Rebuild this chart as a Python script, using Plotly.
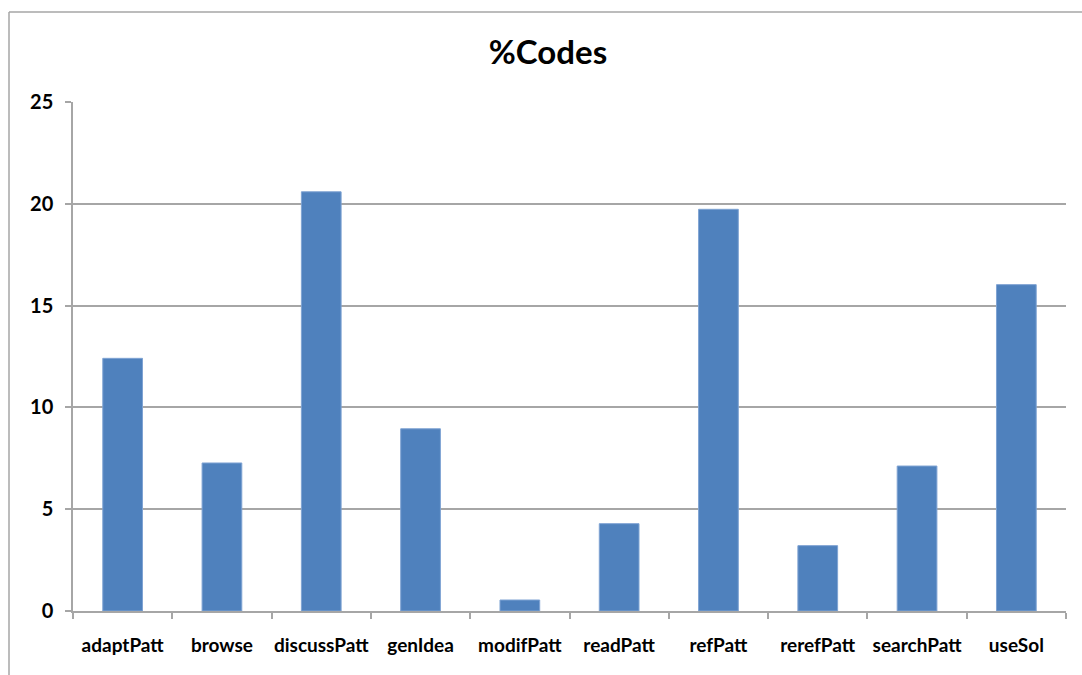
import plotly.graph_objects as go

categories = ["adaptPatt", "browse", "discussPatt", "genIdea", "modifPatt",
              "readPatt", "refPatt", "rerefPatt", "searchPatt", "useSol"]
percent_codes = [12.41, 7.27, 20.59, 8.95, 0.54, 4.29, 19.73, 3.21, 7.12, 16.03]
y_ticks = [0, 5, 10, 15, 20, 25]

W, H = 1082, 675
ML, MR, MT, MB = 73, 16, 102, 64
pw, ph = W - ML - MR, H - MT - MB

FONT = "Lato"
GRAY = "#a6a6a6"

fig = go.Figure(
    go.Bar(
        x=categories,
        y=percent_codes,
        marker=dict(color="#4f81bd", line=dict(color="#7fa3d3", width=1)),
        hoverinfo="x+y",
    )
)

# chart-area frame (left and top edges)
frame_x = (9 - ML) / pw
frame_y = 1 + (MT - 12) / ph
fig.add_shape(type="line", xref="paper", yref="paper",
              x0=frame_x, x1=frame_x, y0=frame_y, y1=-MB / ph - 0.01,
              line=dict(color=GRAY, width=1.5))
fig.add_shape(type="line", xref="paper", yref="paper",
              x0=frame_x, x1=1 + MR / pw + 0.01, y0=frame_y, y1=frame_y,
              line=dict(color=GRAY, width=1.5))

fig.update_layout(
    width=W, height=H,
    margin=dict(l=ML, r=MR, t=MT, b=MB, pad=0, autoexpand=False),
    paper_bgcolor="white", plot_bgcolor="white",
    bargap=0.6,
    showlegend=False,
    font=dict(family=FONT, color="black"),
    title=dict(text="<b>%Codes</b>", x=548 / W, xanchor="center",
               y=1 - 52 / H, yanchor="middle",
               font=dict(family=FONT, size=33, color="black")),
    xaxis=dict(
        type="category",
        automargin=False,
        tickangle=0,
        showline=True, linecolor=GRAY, linewidth=1.5,
        ticks="outside", tickson="boundaries", ticklen=6, tickcolor=GRAY,
        tickwidth=1.5,
        tickfont=dict(family=FONT, size=19, color="black", weight="bold"),
        ticklabelstandoff=16,
        showgrid=False, zeroline=False,
    ),
    yaxis=dict(
        range=[0, 25],
        automargin=False,
        tickvals=y_ticks,
        showline=True, linecolor=GRAY, linewidth=1.5,
        ticks="outside", ticklen=6, tickcolor=GRAY, tickwidth=1.5,
        tickfont=dict(family=FONT, size=20, color="black", weight="bold"),
        ticklabelstandoff=8,
        showgrid=True, gridcolor=GRAY, gridwidth=1.5,
        zeroline=False,
    ),
)

fig.write_html("out.html")
